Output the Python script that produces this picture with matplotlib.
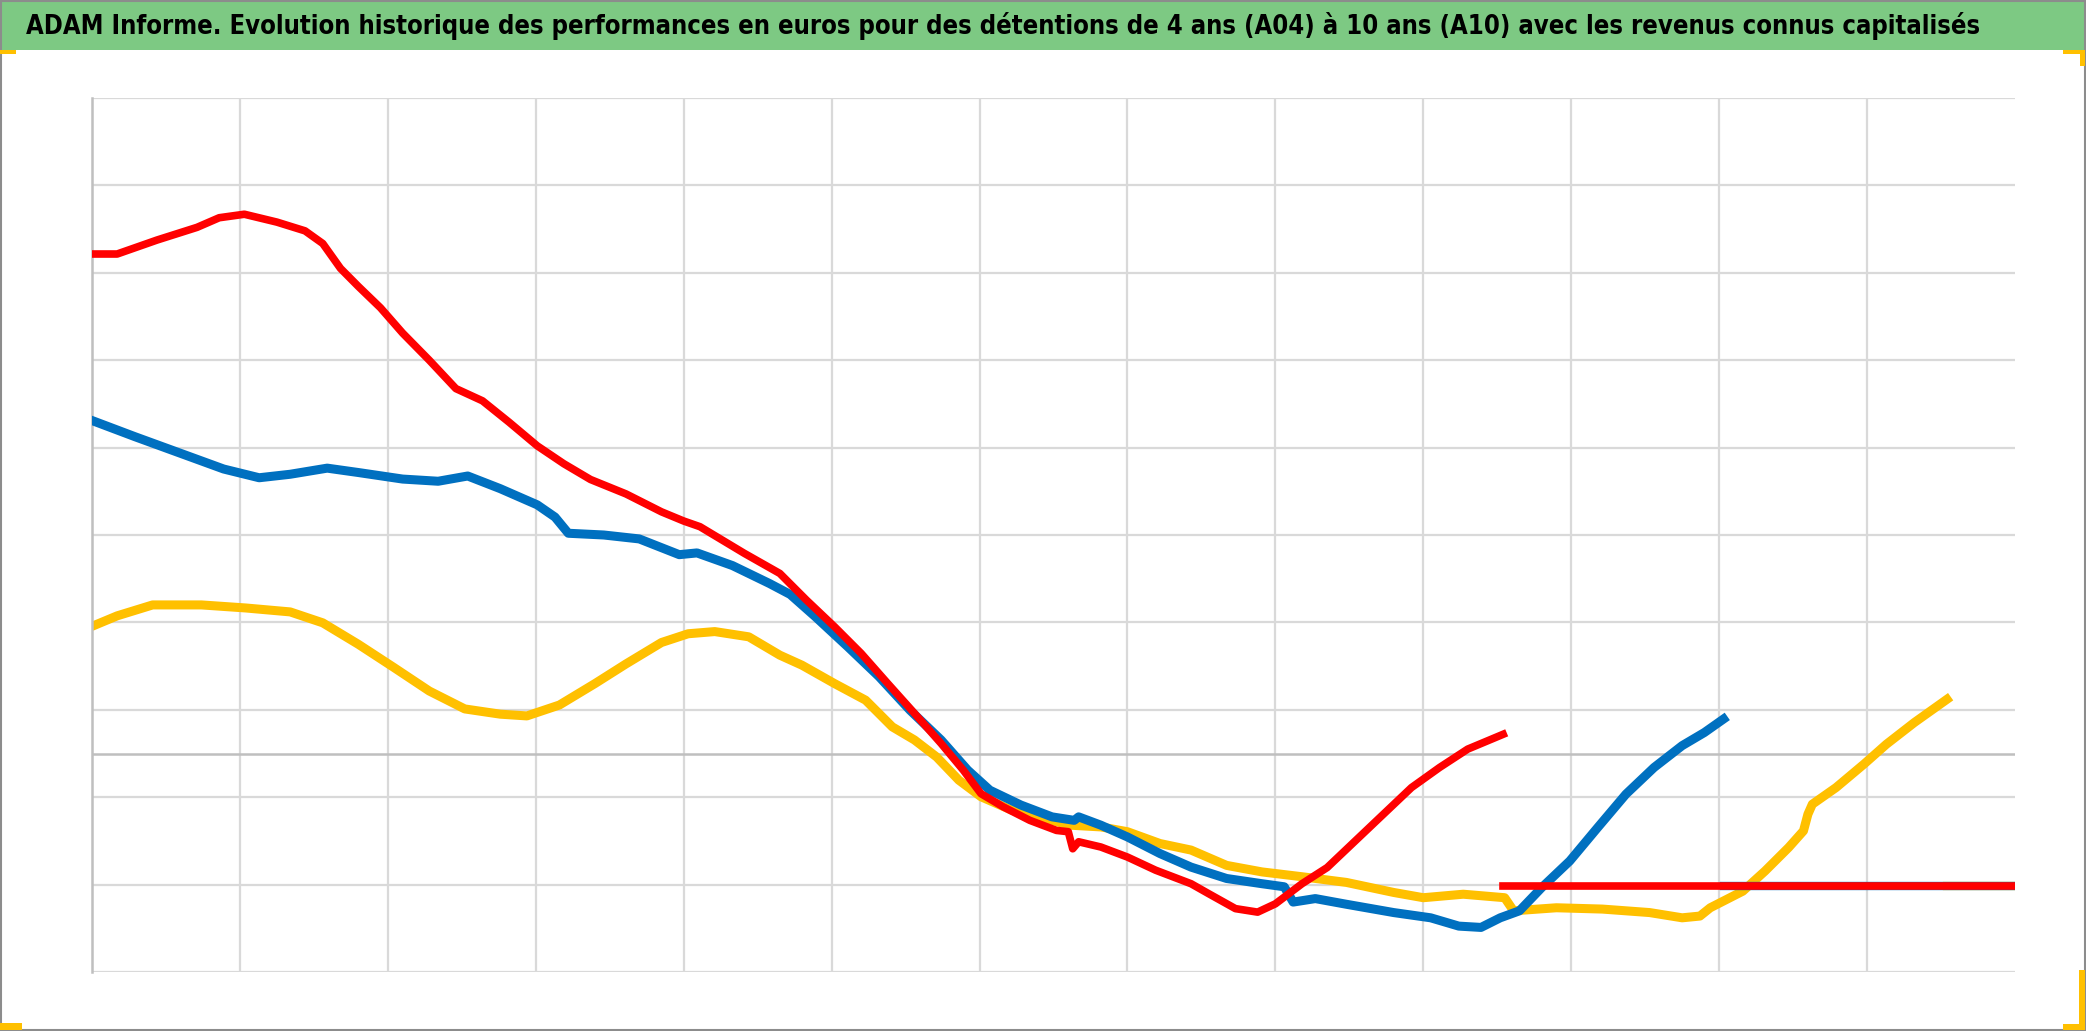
import numpy as np
import matplotlib
matplotlib.use("Agg")
import matplotlib.pyplot as plt
import matplotlib.font_manager as fm
from matplotlib.patches import Rectangle

# values (x: grid units, y: chart units)
red_x = [0, 0.17, 0.44, 0.71, 0.86, 1.03, 1.25, 1.44, 1.56, 1.68, 1.80, 1.95, 2.10, 2.28,
         2.46, 2.64, 2.82, 3.01, 3.19, 3.37, 3.61, 3.85, 4.0, 4.11, 4.41, 4.65, 4.83, 5.02,
         5.20, 5.38, 5.56, 5.74, 5.89, 6.01, 6.16, 6.34, 6.52, 6.60, 6.63, 6.67, 6.82, 7.0,
         7.19, 7.43, 7.55, 7.73, 7.88, 8.0, 8.18, 8.35, 8.54, 8.73, 8.92, 9.11, 9.30, 9.54]
red_y = [114.3, 114.3, 117.5, 120.4, 122.6, 123.4, 121.6, 119.6, 116.7, 111, 106.9, 102, 96.2, 90,
         83.5, 80.7, 75.8, 70.4, 66.3, 62.7, 59.4, 55.3, 53.2, 51.9, 45.8, 41.2, 35.1, 29,
         22.9, 16, 9.2, 2.3, -3.8, -9.2, -12.2, -15.3, -17.6, -17.9, -21.8, -20.2, -21.4, -23.7,
         -26.7, -29.8, -32.1, -35.5, -36.3, -34.4, -29.8, -26.1, -20, -13.9, -7.8, -3.2, 1, 4.4]

blue_x = [0, 0.29, 0.59, 0.89, 1.13, 1.34, 1.59, 1.80, 2.10, 2.34, 2.54, 2.76, 3.01, 3.13,
          3.22, 3.46, 3.70, 3.97, 4.09, 4.33, 4.58, 4.72, 4.89, 5.11, 5.32, 5.53, 5.74, 5.92,
          6.07, 6.28, 6.49, 6.64, 6.67, 6.82, 7.0, 7.22, 7.43, 7.67, 7.91, 8.06, 8.12, 8.27,
          8.48, 8.80, 9.05, 9.24, 9.39, 9.52, 9.65, 9.80, 9.99, 10.18, 10.37, 10.56, 10.75,
          10.90, 11.03]
blue_y = [76.2, 72.5, 68.8, 65.1, 63.1, 63.9, 65.3, 64.3, 62.8, 62.3, 63.5, 60.6, 56.9, 54.1,
          50.4, 50, 49.1, 45.5, 45.9, 43, 38.9, 36.4, 31.3, 24.4, 17.6, 9.9, 3.1, -3.8,
          -8.4, -11.8, -14.5, -15.3, -14.5, -16.4, -19.1, -22.9, -26, -28.6, -29.8, -30.5, -34, -33.2,
          -34.5, -36.4, -37.6, -39.5, -39.8, -37.6, -36, -30.7, -24.6, -16.9, -9.3, -3.2, 1.8,
          4.8, 7.9]

yellow_x = [0, 0.17, 0.41, 0.74, 1.04, 1.34, 1.56, 1.80, 2.04, 2.28, 2.52, 2.76, 2.94, 3.16,
            3.40, 3.61, 3.85, 4.03, 4.21, 4.44, 4.65, 4.80, 5.02, 5.23, 5.41, 5.56, 5.71, 5.86,
            6.01, 6.22, 6.40, 6.61, 6.82, 7.0, 7.22, 7.43, 7.67, 7.91, 8.18, 8.48, 8.80, 9.0,
            9.27, 9.55, 9.61, 9.90, 10.21, 10.53, 10.75, 10.87, 10.94, 11.16, 11.31, 11.47,
            11.57, 11.60, 11.63, 11.79, 11.98, 12.13, 12.32, 12.54]
yellow_y = [29.1, 31.5, 34, 34, 33.3, 32.4, 29.9, 25, 19.7, 14.3, 10.2, 9, 8.6, 11.1,
            16, 20.5, 25.4, 27.4, 27.9, 26.7, 22.5, 20.2, 16, 12.2, 6.1, 3.1, -0.8, -6.1,
            -9.9, -13, -14.5, -16.4, -16.8, -17.9, -20.6, -22.1, -25.6, -27.1, -28.2, -29.5, -31.8, -33,
            -32.2, -33, -36, -35.3, -35.6, -36.4, -37.6, -37.2, -35.3, -31.5, -26.9, -21.5,
            -17.7, -13.9, -11.6, -7.8, -2.4, 2.1, 7.1, 12.4]

flat_level = -30.3
x_end = 13

title = ("ADAM Informe. Evolution historique des performances en euros pour des détentions "
         "de 4 ans (A04) à 10 ans (A10) avec les revenus connus capitalisés")

RED = "#ff0000"
BLUE = "#0070c0"
YELLOW = "#ffc000"

# pick a narrow face for the title if one is installed
names = {f.name for f in fm.fontManager.ttflist}
stretch = "normal"
if "Liberation Sans Narrow" in names:
    title_font = "Liberation Sans Narrow"
elif any(f.name == "DejaVu Sans" and str(f.stretch) == "condensed" for f in fm.fontManager.ttflist):
    title_font = "DejaVu Sans"
    stretch = "condensed"
else:
    title_font = "Liberation Sans"

fig = plt.figure(figsize=(20.86, 10.31), dpi=100)

# green title band
fig.add_artist(Rectangle((0, 1 - 50 / 1031), 1, 50 / 1031, transform=fig.transFigure,
                         facecolor="#7dc983", edgecolor="none"))
t = fig.text(26 / 2086, 1 - 26 / 1031, title, ha="left", va="center", fontsize=20,
             fontweight="bold", family=[title_font, "DejaVu Sans"], fontstretch=stretch,
             color="black")
# size the title so it spans the same width as in the reference
bb = t.get_window_extent(fig.canvas.get_renderer())
t.set_fontsize(min(26, 20 * 1960 / bb.width))

# frame and selection handles
fig.add_artist(Rectangle((0.0005, 0.001), 0.999, 0.998, transform=fig.transFigure,
                         facecolor="none", edgecolor="#8c8c8c", lw=1.5))
for (x0, y0, w, h) in [(0, 977, 16, 4), (2063, 977, 22, 4), (2080, 965, 5, 16),
                       (0, 1, 22, 7), (2063, 1, 18, 6), (2079, 1, 6, 60)]:
    fig.add_artist(Rectangle((x0 / 2086, y0 / 1031), w / 2086, h / 1031,
                             transform=fig.transFigure, facecolor=YELLOW, edgecolor="none"))

ax = fig.add_axes([92 / 2086, 1 - 972 / 1031, (2015 - 92) / 2086, (972 - 98) / 1031])
ax.set_xlim(0, x_end)
ax.set_ylim(-50, 150)

for gy in np.arange(-50, 151, 20):
    ax.axhline(gy, color="#d9d9d9", lw=1.6, zorder=0)
for gx in range(1, 13):
    ax.axvline(gx, color="#d9d9d9", lw=1.6, zorder=0)
ax.axhline(0, color="#bfbfbf", lw=1.8, zorder=0.5)

for s in ["top", "right", "bottom"]:
    ax.spines[s].set_visible(False)
ax.spines["left"].set_color("#bfbfbf")
ax.spines["left"].set_linewidth(1.8)
ax.set_xticks([])
ax.set_yticks([])

ax.plot(yellow_x, yellow_y, color=YELLOW, lw=6.5, solid_joinstyle="round", zorder=2)
ax.plot(blue_x, blue_y, color=BLUE, lw=6.5, solid_joinstyle="round", zorder=3)
ax.plot(red_x, red_y, color=RED, lw=5.5, solid_joinstyle="round", zorder=4)

# flat continuation after each series ends
ax.plot([yellow_x[-1], x_end], [flat_level, flat_level], color=YELLOW, lw=6, zorder=4.4)
ax.plot([blue_x[-1], x_end], [flat_level, flat_level], color=BLUE, lw=6, zorder=4.5)
ax.plot([red_x[-1], x_end], [flat_level, flat_level], color=RED, lw=5.5, zorder=5)

fig.savefig("out.png", dpi=100)
